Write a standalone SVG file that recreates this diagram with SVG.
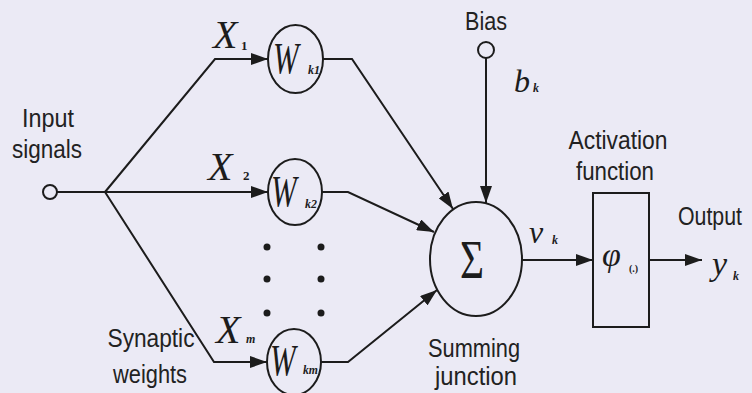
<svg xmlns="http://www.w3.org/2000/svg" width="752" height="393" viewBox="0 0 752 393">
<defs>
<marker id="ah" viewBox="0 0 17 12" refX="17" refY="6" markerWidth="17" markerHeight="12" orient="auto" markerUnits="userSpaceOnUse"><path d="M0,0 L17,6 L0,12 z" fill="#1c1c1c"/></marker>
<style>
.ln{fill:none;stroke:#1c1c1c;stroke-width:2}
.nd{fill:none;stroke:#1c1c1c;stroke-width:2}
.lb{font-family:"Liberation Sans",Arial,sans-serif;font-size:25px;fill:#222;text-anchor:middle}
.m{font-family:"Liberation Serif","Times New Roman",serif;font-style:italic;fill:#1c1c1c}
.w{font-family:"Liberation Serif","Times New Roman",serif;font-style:italic;fill:#1c1c1c;font-size:44px}
.sb{font-family:"Liberation Serif","Times New Roman",serif;font-style:italic;font-weight:bold;fill:#1c1c1c;font-size:12px}
.dot{fill:#1c1c1c}
</style>
</defs>
<rect width="752" height="393" fill="#ebeaf5"/>

<g id="connectors">
<line class="ln" x1="57" y1="192" x2="105" y2="192"/>
<polyline class="ln" points="105,192 215,59 268,59" marker-end="url(#ah)"/>
<polyline class="ln" points="105,192 268,192" marker-end="url(#ah)"/>
<polyline class="ln" points="105,192 214,362 267,362" marker-end="url(#ah)"/>
<polyline class="ln" points="323,59 352,59 453,209" marker-end="url(#ah)"/>
<polyline class="ln" points="322,192 348,192 434,232" marker-end="url(#ah)"/>
<polyline class="ln" points="321,362 348,362 437,290" marker-end="url(#ah)"/>
<line class="ln" x1="486" y1="58" x2="486" y2="203" marker-end="url(#ah)"/>
<line class="ln" x1="522" y1="260" x2="593" y2="260" marker-end="url(#ah)"/>
<line class="ln" x1="649" y1="260" x2="702" y2="260" marker-end="url(#ah)"/>
</g>

<g id="input">
<circle class="nd" cx="50" cy="192" r="7"/>
<text class="lb" x="48" y="127" textLength="52" lengthAdjust="spacingAndGlyphs">Input</text>
<text class="lb" x="47" y="158" textLength="70" lengthAdjust="spacingAndGlyphs">signals</text>
</g>

<g id="x-labels">
<text class="m" x="213" y="48" font-size="40">X</text>
<text x="241" y="50" font-family="Liberation Serif,serif" font-weight="bold" font-size="13" fill="#1c1c1c">1</text>
<text class="m" x="208" y="180" font-size="40">X</text>
<text x="243" y="180" font-family="Liberation Serif,serif" font-weight="bold" font-size="13" fill="#1c1c1c">2</text>
<text class="m" x="216" y="343" font-size="40">X</text>
<text class="sb" x="246" y="343">m</text>
</g>

<g id="w1">
<ellipse class="nd" cx="295.5" cy="59" rx="27.5" ry="34"/>
<text class="w" transform="translate(273,73) scale(0.7,1)">W</text>
<text class="sb" x="308" y="74">k1</text>
</g>
<g id="w2">
<ellipse class="nd" cx="295" cy="192" rx="27" ry="33"/>
<text class="w" transform="translate(271,206) scale(0.7,1)">W</text>
<text class="sb" x="305" y="208">k2</text>
</g>
<g id="wm">
<ellipse class="nd" cx="294" cy="362" rx="27" ry="33"/>
<text class="w" transform="translate(270,375) scale(0.7,1)">W</text>
<text class="sb" x="303" y="374" textLength="15" lengthAdjust="spacingAndGlyphs">km</text>
</g>

<g id="dots">
<circle class="dot" cx="267" cy="247" r="3.5"/>
<circle class="dot" cx="267" cy="279" r="3.5"/>
<circle class="dot" cx="267" cy="313" r="3.5"/>
<circle class="dot" cx="321" cy="247" r="3.5"/>
<circle class="dot" cx="321" cy="279" r="3.5"/>
<circle class="dot" cx="321" cy="313" r="3.5"/>
</g>

<g id="synaptic">
<text class="lb" x="151" y="347" textLength="87" lengthAdjust="spacingAndGlyphs">Synaptic</text>
<text class="lb" x="150" y="383" textLength="74" lengthAdjust="spacingAndGlyphs">weights</text>
</g>

<g id="bias">
<text class="lb" x="486" y="30" textLength="42" lengthAdjust="spacingAndGlyphs">Bias</text>
<circle class="nd" cx="486" cy="50" r="8"/>
<text class="m" x="514" y="92" font-size="32">b</text>
<text class="sb" x="533" y="92" font-size="11">k</text>
</g>

<g id="sum">
<ellipse class="nd" cx="476" cy="259" rx="46" ry="57"/>
<text x="460" y="278" font-family="Liberation Serif,serif" font-size="54" fill="#1c1c1c" textLength="24" lengthAdjust="spacingAndGlyphs">Σ</text>
<text class="lb" x="474" y="357" textLength="92" lengthAdjust="spacingAndGlyphs">Summing</text>
<text class="lb" x="476" y="385" textLength="82" lengthAdjust="spacingAndGlyphs">junction</text>
<text class="m" x="529" y="243" font-size="32">v</text>
<text class="sb" x="552" y="244">k</text>
</g>

<g id="activation">
<rect class="nd" x="593" y="193" width="56" height="134"/>
<text class="lb" x="618" y="149" textLength="99" lengthAdjust="spacingAndGlyphs">Activation</text>
<text class="lb" x="615" y="180" textLength="78" lengthAdjust="spacingAndGlyphs">function</text>
<text class="m" x="602" y="266" font-size="34">φ</text>
<text x="629" y="272" font-family="Liberation Serif,serif" font-weight="bold" font-size="10" fill="#1c1c1c">(.)</text>
</g>

<g id="output">
<text class="lb" x="710" y="225" font-size="23" textLength="64" lengthAdjust="spacingAndGlyphs">Output</text>
<text class="m" x="712" y="275" font-size="34">y</text>
<text class="sb" x="733" y="280">k</text>
</g>
</svg>
